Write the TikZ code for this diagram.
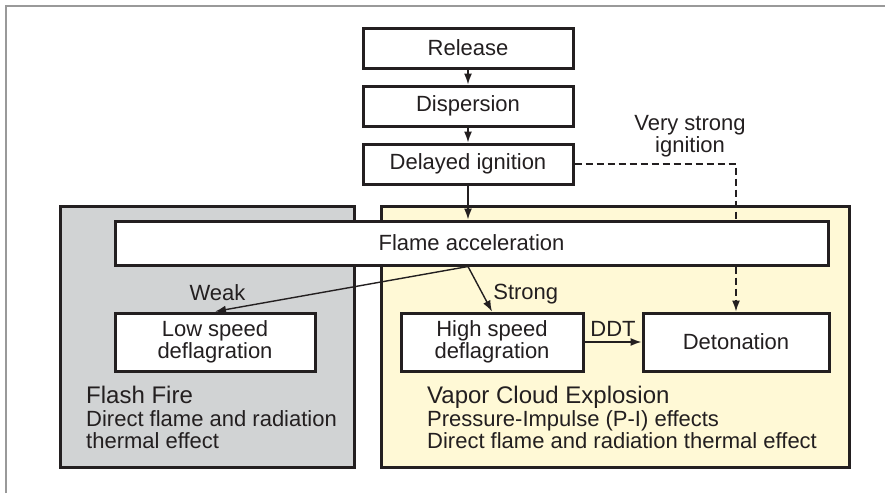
\documentclass[tikz,border=0pt]{standalone}
\usepackage{fontspec}
\setmainfont{Liberation Sans}
\usepackage{xcolor}
\usepackage{tikz}
\usetikzlibrary{positioning}
\usetikzlibrary{arrows.meta}
\definecolor{inkline}{RGB}{35,31,32}
\definecolor{firegray}{RGB}{209,211,212}
\definecolor{cloudyellow}{RGB}{255,249,214}
\tikzset{edge/.style = {->,> = {Latex[length=11pt,width=8pt]}, line width=1.4pt, draw=inkline}}

\begin{document}
\begin{tikzpicture}[x=1pt,y=-1pt,node distance=15pt,
    every node/.style={font=\fontsize{22}{22.5}\selectfont,text=inkline},
    main node/.style={rectangle,draw=inkline,line width=3pt,fill=white,align=center,inner sep=0pt},
    zone/.style={draw=inkline,line width=3pt},
    tag/.style={inner sep=1pt}]
    \useasboundingbox (0,0) rectangle (885,493);
    \draw[black!40,line width=1.2pt] (6,493) -- (6,6) -- (885,6);

    \draw[zone,fill=firegray] (60,206) rectangle (354,467);
    \draw[zone,fill=cloudyellow] (381,206) rectangle (849,467);

    \node[main node,minimum width=210pt,minimum height=40pt] (release) at (468,48) {Release};
    \node[main node,minimum width=210pt,minimum height=40pt] (dispersion) [below=of release] {Dispersion};
    \node[main node,minimum width=210pt,minimum height=40pt] (delayed) [below=of dispersion] {Delayed ignition};

    \node[main node,minimum width=186pt,minimum height=58pt] (deton) at (736,342) {Detonation};
    \draw[edge,dash pattern=on 7pt off 4pt] (delayed.east) -| (deton.north);
    \node[tag,align=center] (strongign) at (690,136) {Very strong\\ignition};

    \node[main node,minimum width=713pt,minimum height=44pt] (flame) at (471.5,243) {Flame acceleration};
    \node[main node,minimum width=200pt,minimum height=58pt] (low) at (215,342) {Low speed\\deflagration};
    \node[main node,minimum width=182pt,minimum height=58pt] (high) at (492,342) {High speed\\deflagration};
    \coordinate (fork) at (delayed.south |- flame.south);

    \path[every edge/.style={edge},every node/.style={tag,font=\fontsize{22}{22.5}\selectfont,text=inkline}]
        (release) edge (dispersion)
        (dispersion) edge (delayed)
        (delayed) edge (delayed.south |- flame.north)
        (fork) edge node [pos=0.99,above=9pt] {Weak} (low.north)
        (fork) edge node [pos=0.61,right=9pt] {Strong} (high.north)
        (high) edge node [above=4pt] {DDT} (deton)
        ;

    \node[inner sep=0pt,anchor=north west,align=left] (flashfire) at (86,386)
        {{\fontsize{24}{24}\selectfont Flash Fire}\\Direct flame and radiation\\thermal effect};
    \node[inner sep=0pt,anchor=north west,align=left] (vaporcloud) at (427,386)
        {{\fontsize{24}{24}\selectfont Vapor Cloud Explosion}\\Pressure-Impulse (P-I) effects\\Direct flame and radiation thermal effect};
\end{tikzpicture}
\end{document}
